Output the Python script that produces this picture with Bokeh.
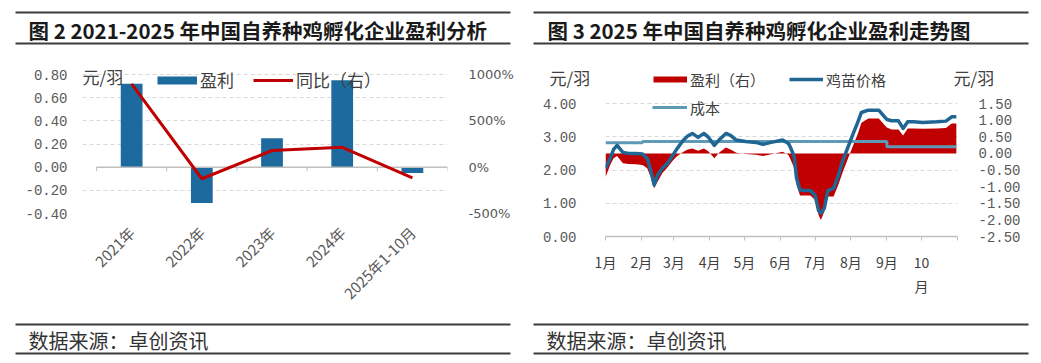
import math
import pandas as pd
from bokeh.plotting import figure
from bokeh.layouts import row, column
from bokeh.models import (Range1d, LinearAxis, FixedTicker, PrintfTickFormatter,
                          CustomJSTickFormatter, Label, Legend, LegendItem,
                          ColumnDataSource)
from bokeh.core.properties import value
from bokeh.embed import file_html
from bokeh.resources import INLINE

CJK = "Noto Sans CJK SC"
MONO = "Liberation Mono"
NAN = float("nan")

# ---------------- data: figure 2 (annual) ----------------
years = ["2021年", "2022年", "2023年", "2024年", "2025年1-10月"]
profit_year = [0.72, -0.31, 0.25, 0.75, -0.05]
yoy_pct = [900, -125, 180, 215, -115]
left_ticks = [-0.4, -0.2, 0.0, 0.2, 0.4, 0.6, 0.8]
pct_ticks = [-500, 0, 500, 1000]

# ---------------- data: figure 3 (2025 trend) ----------------
dates = ["2025-01-01", "2025-01-05", "2025-01-08", "2025-01-11", "2025-01-16",
         "2025-01-21", "2025-01-27", "2025-02-02", "2025-02-06", "2025-02-09",
         "2025-02-12", "2025-02-15", "2025-02-19", "2025-02-24", "2025-02-28",
         "2025-03-04", "2025-03-09", "2025-03-13", "2025-03-17", "2025-03-22",
         "2025-03-27", "2025-03-31", "2025-04-05", "2025-04-09", "2025-04-15",
         "2025-04-19", "2025-04-24", "2025-05-02", "2025-05-11", "2025-05-17",
         "2025-05-24", "2025-06-03", "2025-06-08", "2025-06-10", "2025-06-13",
         "2025-06-15", "2025-06-18", "2025-06-23", "2025-06-27", "2025-07-01",
         "2025-07-04", "2025-07-06", "2025-07-09", "2025-07-12", "2025-07-17",
         "2025-07-21", "2025-07-25", "2025-07-30", "2025-08-03", "2025-08-07",
         "2025-08-10", "2025-08-16", "2025-08-25", "2025-08-30", "2025-09-01",
         "2025-09-05", "2025-09-11", "2025-09-15", "2025-09-19", "2025-09-24",
         "2025-10-02", "2025-10-14", "2025-10-22", "2025-10-27", "2025-10-31"]
chick_price = [2.05, 2.35, 2.62, 2.74, 2.53,
               2.50, 2.50, 2.48, 2.35, 2.00,
               1.55, 1.85, 2.05, 2.22, 2.44,
               2.65, 2.89, 3.02, 3.10, 2.98,
               3.10, 2.98, 2.74, 2.90, 3.10,
               3.04, 2.90, 2.86, 2.83, 2.77,
               2.83, 2.90, 2.80, 2.66, 2.40,
               1.75, 1.40, 1.38, 1.38, 1.25,
               0.78, 0.70, 0.85, 1.38, 1.45,
               1.83, 2.29, 2.74, 3.10, 3.45,
               3.73, 3.80, 3.80, 3.60, 3.52,
               3.48, 3.48, 3.25, 3.45, 3.45,
               3.43, 3.45, 3.47, 3.60, 3.60]
profit_daily = [-0.72, -0.35, -0.15, -0.08, -0.30,
                -0.32, -0.33, -0.35, -0.45, -0.70,
                -1.05, -0.85, -0.60, -0.40, -0.22,
                -0.08, 0.04, 0.12, 0.15, 0.08,
                0.15, 0.06, -0.15, 0.02, 0.18,
                0.12, 0.02, -0.02, -0.04, -0.08,
                -0.03, 0.05, -0.05, -0.20, -0.45,
                -0.95, -1.27, -1.27, -1.27, -1.40,
                -1.85, -2.00, -1.75, -1.30, -1.30,
                -0.95, -0.55, -0.10, 0.25, 0.60,
                0.92, 1.05, 1.05, 0.85, 0.78,
                0.72, 0.72, 0.54, 0.75, 0.75,
                0.74, 0.75, 0.76, 0.90, 0.90]
cost = [2.82, 2.82, 2.82, 2.82, 2.82,
        2.82, 2.82, 2.86, 2.86, 2.86,
        2.86, 2.86, 2.86, 2.86, 2.86,
        2.86, 2.86, 2.86, 2.86, 2.86,
        2.86, 2.86, 2.86, 2.86, 2.86,
        2.86, 2.86, 2.86, 2.86, 2.86,
        2.86, 2.86, 2.86, 2.86, 2.86,
        2.86, 2.86, 2.86, 2.86, 2.86,
        2.86, 2.86, 2.86, 2.86, 2.86,
        2.86, 2.86, 2.86, 2.86, 2.86,
        2.86, 2.86, 2.86, 2.86, 2.70,
        2.70, 2.70, 2.70, 2.70, 2.70,
        2.70, 2.70, 2.70, 2.70, 2.70]
price_ticks = [0, 1, 2, 3, 4]
profit_ticks = [-2.5, -2.0, -1.5, -1.0, -0.5, 0.0, 0.5, 1.0, 1.5]
month_starts = ["2025-01-01", "2025-02-01", "2025-03-01", "2025-04-01", "2025-05-01",
                "2025-06-01", "2025-07-01", "2025-08-01", "2025-09-01", "2025-10-01",
                "2025-11-01"]
month_labels = ["1月", "2月", "3月", "4月", "5月", "6月", "7月", "8月", "9月", "10\n月", ""]

BLUE = "#1D6A9E"
RED = "#C00000"
PRICE = "#1F6693"
COST = "#5E9AB6"
GRID = "#d9d9d9"
AXIS = "#bfbfbf"
TXT = "#595959"
RULE = "#3c3c3c"

# page layout (Bokeh's page has no body margin, so page pixels == picture pixels)
X1, W1 = 0, 524
X2, W2 = 524, 516
FOOT_Y, H_FOOT = 318, 42
LEG_H = 24


def no_align(f):
    try:
        f.frame_align = False
    except Exception:
        pass
    return f


def blank(width, height, x0, y0):
    f = figure(width=width, height=height, output_backend="svg", toolbar_location=None,
               x_range=Range1d(x0, x0 + width), y_range=Range1d(y0 + height, y0),
               x_axis_location=None, y_axis_location=None, min_border=0)
    f.grid.visible = False
    f.outline_line_color = None
    return no_align(f)


def header(x0, width, height, rule_l, rule_r, title, tx):
    h = blank(width, height, x0, 0)
    h.segment(x0=[rule_l, rule_l], x1=[rule_r, rule_r], y0=[12, 43], y1=[12, 43],
              line_color=RULE, line_width=2)
    h.text(x=[tx], y=[29], text=[title], text_font=value(CJK), text_font_style="bold",
           text_font_size="20.5px", text_baseline="middle", text_align="left",
           text_color="#1a1a1a")
    return h


def footer(x0, width, rule_l, rule_r, tx):
    y0 = FOOT_Y
    f = blank(width, H_FOOT, x0, y0)
    f.segment(x0=[rule_l, rule_l], x1=[rule_r, rule_r], y0=[324, 353],
              y1=[324, 353], line_color=RULE, line_width=2)
    f.text(x=[tx], y=[340], text=["数据来源：卓创资讯"], text_font=value(CJK),
           text_font_size="20px", text_baseline="middle", text_align="left",
           text_color="#333333")
    return f


def style_y(ax, standoff, font, size):
    ax.axis_line_color = None
    ax.major_tick_line_color = None
    ax.minor_tick_line_color = None
    ax.major_label_standoff = standoff
    ax.major_label_text_font = font
    ax.major_label_text_font_size = size
    ax.major_label_text_color = TXT


def legend(items, loc, gw, size, standoff, spacing):
    return Legend(items=items, orientation="horizontal", location=loc, glyph_width=gw,
                  glyph_height=LEG_H, label_height=LEG_H, label_standoff=standoff,
                  spacing=spacing, padding=0, margin=0, border_line_color=None,
                  background_fill_alpha=0, label_text_font=CJK, label_text_font_size=size,
                  label_text_color="#404040", label_text_baseline="middle")


# ================= left plot (page y 50..318) =================
n = len(years)
xs = [i + 0.5 for i in range(n)]
PX_PER_UNIT = 115.8
P1_TOP = 50
frame_l1, frame_r1 = 82, 447
frame_top1, frame_bot1 = 64, 213
y_top1 = left_ticks[0] + (frame_bot1 - frame_top1) / PX_PER_UNIT
p1 = figure(width=W1, height=FOOT_Y - P1_TOP, output_backend="svg", toolbar_location=None,
            x_range=Range1d(-0.2, n), y_range=Range1d(left_ticks[0], y_top1),
            min_border_left=frame_l1 - X1, min_border_right=X1 + W1 - frame_r1,
            min_border_top=frame_top1 - P1_TOP, min_border_bottom=FOOT_Y - frame_bot1)
no_align(p1)
p1.outline_line_color = None
pct_per_unit = pct_ticks[-1] / left_ticks[-1]
p1.extra_y_ranges = {"pct": Range1d(left_ticks[0] * pct_per_unit, y_top1 * pct_per_unit)}
src1 = ColumnDataSource(dict(x=xs, profit=profit_year, yoy=yoy_pct))

p1.xgrid.visible = False
p1.ygrid.ticker = FixedTicker(ticks=[t for t in left_ticks if t != 0])
p1.ygrid.grid_line_color = GRID
p1.ygrid.grid_line_dash = "4 3"

p1.vbar(x="x", top="profit", bottom=0, width=0.31, fill_color=BLUE, line_color=None, source=src1)
bounds = list(range(n + 1))
p1.segment(x0=[0], x1=[n], y0=[0], y1=[0], line_color=AXIS, line_width=1.5)
p1.segment(x0=bounds, x1=bounds, y0=[0] * len(bounds), y1=[-0.035] * len(bounds),
           line_color=AXIS, line_width=1)
yoy_r = p1.line(x="x", y="yoy", y_range_name="pct", line_color=RED, line_width=3, source=src1)

ya = p1.yaxis[0]
ya.ticker = FixedTicker(ticks=left_ticks)
ya.formatter = PrintfTickFormatter(format="%.2f")
style_y(ya, 9, MONO, "14px")

ra = LinearAxis(y_range_name="pct", ticker=FixedTicker(ticks=pct_ticks),
                formatter=PrintfTickFormatter(format="%d%%"))
style_y(ra, 15, "DejaVu Sans", "13px")
p1.add_layout(ra, "right")

xa = p1.xaxis[0]
xa.ticker = FixedTicker(ticks=xs)
xa.formatter = CustomJSTickFormatter(args=dict(labels=years),
                                     code="return labels[Math.round(tick - 0.5)];")
xa.major_label_orientation = math.pi / 4
xa.axis_line_color = None
xa.major_tick_line_color = None
xa.minor_tick_line_color = None
xa.major_label_standoff = 10
xa.major_label_text_font = CJK
xa.major_label_text_font_size = "15px"
xa.major_label_text_color = TXT

bar_key = p1.line(x=[NAN], y=[NAN], line_color=BLUE, line_width=8)
p1.add_layout(legend([LegendItem(label="盈利", renderers=[bar_key]),
                      LegendItem(label="同比（右）", renderers=[yoy_r])],
                     (157 - frame_l1, frame_bot1 - (80 + LEG_H // 2)), 40, "17px", 3, 19))
p1.add_layout(Label(x=0, y=frame_bot1 - 76, x_units="screen", y_units="screen",
                    text="元/羽", text_font=CJK, text_font_size="17px",
                    text_color="#404040", text_baseline="middle"))

# ================= right plot (page y 92..318) =================
P2_TOP = 92
frame_l2, frame_r2 = 605, 957
frame_top2, frame_bot2 = 96, 236
PX2 = 33.25
xday = list(pd.to_datetime(pd.Series(dates)).dt.dayofyear - 1)
mday = list(pd.to_datetime(pd.Series(month_starts)).dt.dayofyear - 1)
y_top2 = (frame_bot2 - frame_top2) / PX2
shift = profit_ticks[0] - price_ticks[0]
p2 = figure(width=W2, height=FOOT_Y - P2_TOP, output_backend="svg", toolbar_location=None,
            x_range=Range1d(mday[0], mday[-1]), y_range=Range1d(price_ticks[0], y_top2),
            min_border_left=frame_l2 - X2, min_border_right=X2 + W2 - frame_r2,
            min_border_top=frame_top2 - P2_TOP, min_border_bottom=FOOT_Y - frame_bot2)
no_align(p2)
p2.outline_line_color = None
p2.extra_y_ranges = {"profit": Range1d(profit_ticks[0], y_top2 + shift)}
src2 = ColumnDataSource(dict(x=xday, price=chick_price, profit=profit_daily, cost=cost))

p2.xgrid.visible = False
p2.ygrid.grid_line_color = GRID
p2.ygrid.grid_line_dash = "4 3"

p2.varea(x="x", y1=0, y2="profit", y_range_name="profit", fill_color=RED, source=src2)
cost_r = p2.step(x="x", y="cost", mode="after", line_color=COST, line_width=3, source=src2)
p2.line(x="x", y="price", line_color=PRICE, line_width=3.5, line_join="round", source=src2)

ya2 = p2.yaxis[0]
ya2.ticker = FixedTicker(ticks=price_ticks)
ya2.formatter = PrintfTickFormatter(format="%.2f")
style_y(ya2, 23, MONO, "14px")
p2.ygrid.ticker = FixedTicker(ticks=price_ticks[1:])

ra2 = LinearAxis(y_range_name="profit", ticker=FixedTicker(ticks=profit_ticks),
                 formatter=PrintfTickFormatter(format="%.2f"))
style_y(ra2, 15, MONO, "14px")
p2.add_layout(ra2, "right")

xa2 = p2.xaxis[0]
xa2.ticker = FixedTicker(ticks=mday)
xa2.formatter = CustomJSTickFormatter(args=dict(ticks_=mday, labels=month_labels),
                                      code="const i = ticks_.indexOf(tick); return i >= 0 ? labels[i] : '';")
xa2.axis_line_color = AXIS
xa2.axis_line_width = 1.5
xa2.major_tick_line_color = AXIS
xa2.major_tick_out = 4
xa2.major_tick_in = 0
xa2.minor_tick_line_color = None
xa2.major_label_standoff = 11
xa2.major_label_text_font = CJK
xa2.major_label_text_font_size = "14px"
xa2.major_label_text_color = "#404040"

p2.add_layout(legend([LegendItem(label="成本", renderers=[cost_r])],
                     (652 - frame_l2, frame_bot2 - (107 + LEG_H // 2)), 35, "15px", 3, 20))

# ================= headers / footers =================
h1 = header(X1, W1, P1_TOP, 15, 510, "图 2 2021-2025 年中国自养种鸡孵化企业盈利分析", 28)
h2 = header(X2, W2, P2_TOP, 533, 1028, "图 3 2025 年中国自养种鸡孵化企业盈利走势图", 547)
h2.text(x=[549, 953], y=[77, 77], text=["元/羽", "元/羽"], text_font=value(CJK),
        text_font_size="17px", text_baseline="middle", text_align="left", text_color="#404040")
prof_key = h2.line(x=[NAN], y=[NAN], line_color=RED, line_width=6)
price_key = h2.line(x=[NAN], y=[NAN], line_color=PRICE, line_width=3.5)
h2.add_layout(legend([LegendItem(label="盈利（右）", renderers=[prof_key]),
                      LegendItem(label="鸡苗价格", renderers=[price_key])],
                     (653 - X2, P2_TOP - (79 + LEG_H // 2)), 34, "15px", 3, 24))

f1 = footer(X1, W1, 15, 510, 28)
f2 = footer(X2, W2, 533, 1028, 546)

layout = row(column(h1, p1, f1, spacing=0), column(h2, p2, f2, spacing=0), spacing=0)
open("out.html", "w").write(file_html(layout, INLINE))
